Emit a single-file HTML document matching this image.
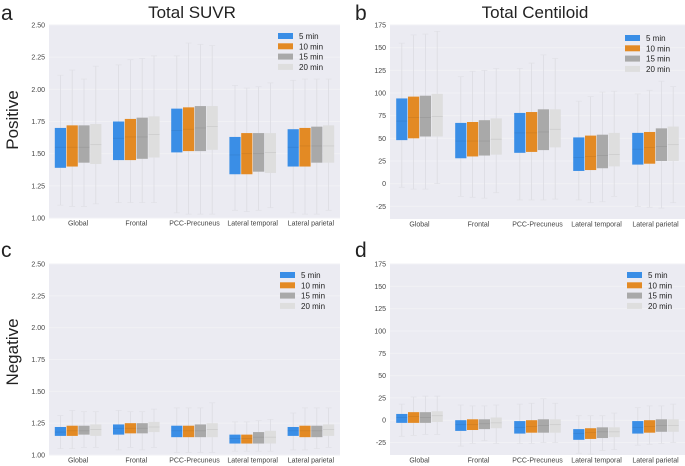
<!DOCTYPE html>
<html><head><meta charset="utf-8"><style>
body{margin:0;background:#fff;}
svg{display:block;font-family:"Liberation Sans",sans-serif;}
</style></head><body>
<svg id="fig" width="685" height="466" viewBox="0 0 685 466" xmlns="http://www.w3.org/2000/svg">
<text x="1" y="20" font-size="21" fill="#222">a</text>
<text x="355" y="20" font-size="21" fill="#222">b</text>
<text x="1" y="257" font-size="21" fill="#222">c</text>
<text x="355" y="257" font-size="21" fill="#222">d</text>
<text x="192" y="18" font-size="17" text-anchor="middle" fill="#222">Total SUVR</text>
<text x="535" y="18" font-size="17" text-anchor="middle" fill="#222">Total Centiloid</text>
<text transform="translate(18,120) rotate(-90)" font-size="17" text-anchor="middle" fill="#222">Positive</text>
<text transform="translate(18,352) rotate(-90)" font-size="17" text-anchor="middle" fill="#222">Negative</text>
</svg>
<script>
const categories=["Global","Frontal","PCC-Precuneus","Lateral temporal","Lateral parietal"];
const seriesNames=["5 min","10 min","15 min","20 min"];
const suvrTicks=["1.00","1.25","1.50","1.75","2.00","2.25","2.50"];
const clTicks=["-25","0","25","50","75","100","125","150","175"];
// [whiskerLow, q1, median, q3, whiskerHigh] per category per series
const posSUVR=[
[[1.10,1.39,1.55,1.70,2.11],[1.09,1.40,1.55,1.72,2.15],[1.09,1.43,1.55,1.72,2.08],[1.11,1.42,1.57,1.73,2.18]],
[[1.12,1.45,1.62,1.75,2.19],[1.12,1.45,1.63,1.77,2.23],[1.12,1.46,1.63,1.78,2.24],[1.12,1.47,1.65,1.79,2.26]],
[[1.04,1.51,1.68,1.85,2.26],[1.03,1.52,1.69,1.86,2.36],[1.03,1.52,1.70,1.87,2.35],[1.03,1.53,1.71,1.87,2.34]],
[[1.06,1.34,1.49,1.63,2.03],[1.05,1.34,1.50,1.66,2.01],[1.06,1.36,1.50,1.66,2.02],[1.08,1.35,1.51,1.66,2.05]],
[[1.04,1.40,1.55,1.69,2.07],[1.03,1.40,1.56,1.70,2.08],[1.03,1.43,1.56,1.71,2.08],[1.06,1.43,1.56,1.72,2.08]]];
const posCL=[
[[-4,48,69,94,155],[-6,50,73,96,164],[-6,52,73,97,165],[0,52,74,99,168]],
[[-14,28,47,67,118],[-15,30,47,68,124],[-16,31,47,70,125],[-10,32,49,72,127]],
[[-18,34,56,78,127],[-18,35,56,79,133],[-18,37,57,82,142],[-17,40,60,82,138]],
[[-18,14,29,51,91],[-21,15,30,53,96],[-20,17,31,54,101],[-14,19,32,56,102]],
[[-25,21,38,56,99],[-26,22,40,57,103],[-27,25,41,61,113],[-21,25,43,63,107]]];
const negSUVR=[
[[1.05,1.15,1.18,1.22,1.31],[1.05,1.15,1.19,1.23,1.35],[1.06,1.16,1.19,1.23,1.34],[1.06,1.15,1.20,1.24,1.34]],
[[1.04,1.16,1.21,1.24,1.35],[1.06,1.17,1.21,1.25,1.34],[1.04,1.17,1.21,1.25,1.34],[1.06,1.18,1.22,1.26,1.36]],
[[1.02,1.14,1.19,1.23,1.37],[1.02,1.14,1.19,1.23,1.37],[1.02,1.14,1.19,1.24,1.37],[1.02,1.14,1.20,1.25,1.41]],
[[1.03,1.09,1.13,1.16,1.26],[1.03,1.09,1.13,1.16,1.26],[1.03,1.09,1.14,1.18,1.27],[1.03,1.09,1.14,1.19,1.28]],
[[1.04,1.15,1.19,1.22,1.33],[1.04,1.14,1.19,1.23,1.37],[1.05,1.14,1.19,1.23,1.37],[1.06,1.15,1.20,1.24,1.37]]];
const negCL=[
[[-18,-3,3,7,18],[-17,-3,4,9,26],[-16,-3,3,9,27],[-16,-2,5,10,27]],
[[-29,-12,-5,0,17],[-26,-11,-5,1,16],[-23,-10,-4,1,16],[-26,-9,-3,3,17]],
[[-26,-15,-8,-1,18],[-26,-14,-7,0,19],[-25,-14,-6,1,24],[-25,-14,-5,1,19]],
[[-37,-22,-15,-10,5],[-38,-21,-14,-9,5],[-34,-20,-13,-8,5],[-33,-19,-13,-8,8]],
[[-28,-15,-8,-1,14],[-27,-14,-7,0,16],[-26,-13,-6,1,16],[-25,-13,-6,1,18]]];

const colors=["#3a8ee6","#e38a24","#a9a9a9","#dedede"];
const NS="http://www.w3.org/2000/svg";
const svg=document.getElementById('fig');
function mk(tag,attrs,parent){const e=document.createElementNS(NS,tag);for(const k in attrs)e.setAttribute(k,attrs[k]);(parent||svg).appendChild(e);return e;}

function panel(id,x0,x1,yTop,yBot,vTop,vBot,ticks,data,legX,legY){
  const g=mk('g',{});
  
  
  const ys=v=>yTop+(vTop-v)/(vTop-vBot)*(yBot-yTop);
  const bg=mk('rect',{x:x0,y:yTop,width:x1-x0,height:yBot-yTop,fill:'#ebebf2'},g);
  
  
  ticks.forEach(t=>{
    const v=parseFloat(t),y=ys(v);
    if(y<yTop-1||y>yBot+1)return;
    mk('line',{x1:x0,x2:x1,y1:y,y2:y,stroke:'#f1f1f5','stroke-width':1},g);
    const tx=mk('text',{x:x0-4,y:y+2.5,'font-size':7,'text-anchor':'end',fill:'#444'},g);
    tx.textContent=t;
    
    
  });
  const cw=(x1-x0)/categories.length,bw=11.8;
  categories.forEach((c,ci)=>{
    const cx=x0+cw*(ci+0.5);
    const lab=mk('text',{x:cx,y:yBot+7.5,'font-size':7,'text-anchor':'middle',fill:'#444'},g);
    lab.textContent=c;
    
    
    data[ci].forEach((d,si)=>{
      const bx=cx-2*bw+si*bw, mx=bx+bw/2;
      const w=mk('line',{x1:mx,x2:mx,y1:ys(d[0]),y2:ys(d[4]),stroke:'#dcdce2','stroke-width':0.8},g);
      
      
      [d[0],d[4]].forEach(v=>mk('line',{x1:mx-3,x2:mx+3,y1:ys(v),y2:ys(v),stroke:'#e0e0e6','stroke-width':0.7},g));
      const b=mk('rect',{x:bx+0.3,y:ys(d[3]),width:bw-0.6,height:ys(d[1])-ys(d[3]),fill:colors[si]},g);
      
      
      const m=mk('line',{x1:bx+0.3,x2:bx+bw-0.3,y1:ys(d[2]),y2:ys(d[2]),stroke:'rgba(0,0,0,0.08)','stroke-width':0.8},g);
      
      
    });
  });
  seriesNames.forEach((s,si)=>{
    const y=legY+si*10.3;
    const r=mk('rect',{x:legX,y:y,width:15,height:6,fill:colors[si]},g);
    
    
    const t=mk('text',{x:legX+21,y:y+6,'font-size':8,fill:'#222'},g);
    t.textContent=s;
    
    
  });
}
panel('panel-a-positive-suvr',49,340,25,218,2.5,1.0,suvrTicks,posSUVR,278,33);
panel('panel-b-positive-centiloid',390,685,25,219,175,-39,clTicks,posCL,625,35);
panel('panel-c-negative-suvr',49,340,264,455,2.5,1.0,suvrTicks,negSUVR,280,272);
panel('panel-d-negative-centiloid',390,685,264,455,175,-39,clTicks,negCL,627,272);
</script>
</body></html>
